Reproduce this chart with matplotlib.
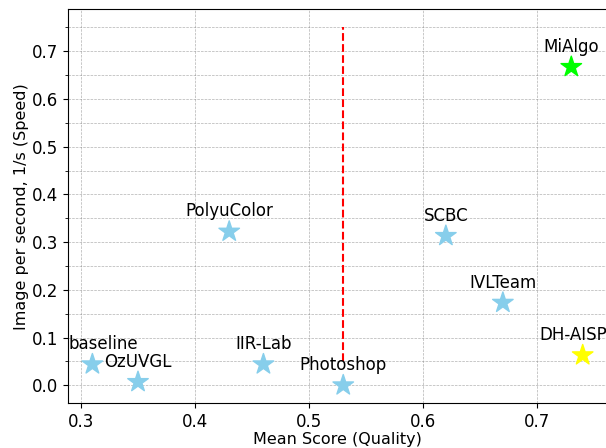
import matplotlib
matplotlib.use("Agg")
import matplotlib.pyplot as plt
from matplotlib.ticker import MultipleLocator

# team results
teams = ["baseline", "OzUVGL", "PolyuColor", "IIR-Lab", "Photoshop",
         "SCBC", "IVLTeam", "MiAlgo", "DH-AISP"]
quality = [0.31, 0.35, 0.43, 0.46, 0.53, 0.62, 0.67, 0.73, 0.74]
speed = [0.044, 0.007, 0.322, 0.044, 0.0, 0.313, 0.173, 0.667, 0.063]
colors = ["skyblue", "skyblue", "skyblue", "skyblue", "skyblue",
          "skyblue", "skyblue", "lime", "yellow"]

# Photoshop reference line
ref_x = 0.53
ref_y = [0.05, 0.75]

fig, ax = plt.subplots(figsize=(6.06, 4.48), dpi=100)
fig.subplots_adjust(left=0.112, right=1.002, bottom=0.100, top=0.979)

ax.scatter(quality, speed, marker="*", s=240, c=colors, zorder=3)
ax.vlines(ref_x, ref_y[0], ref_y[1], colors="red", linestyles="--", linewidth=1.5)

# label x offsets in points, a few are nudged sideways
x_shift = {"baseline": 8, "DH-AISP": -7}
for name, x, y in zip(teams, quality, speed):
    ax.annotate(name, (x, y), xytext=(x_shift.get(name, 0), 14.5),
                textcoords="offset points", ha="center", va="center",
                fontsize=12)

ax.yaxis.set_minor_locator(MultipleLocator(0.05))
ax.grid(True, which="both", linestyle="--", linewidth=0.5, color="gray", alpha=0.6)
ax.tick_params(labelsize=12)
ax.set_xlabel("Mean Score (Quality)", fontsize=11.5, labelpad=0.5)
ax.set_ylabel("Image per second, 1/s (Speed)", fontsize=11.5, labelpad=2)

plt.savefig("out.png", dpi=100)
